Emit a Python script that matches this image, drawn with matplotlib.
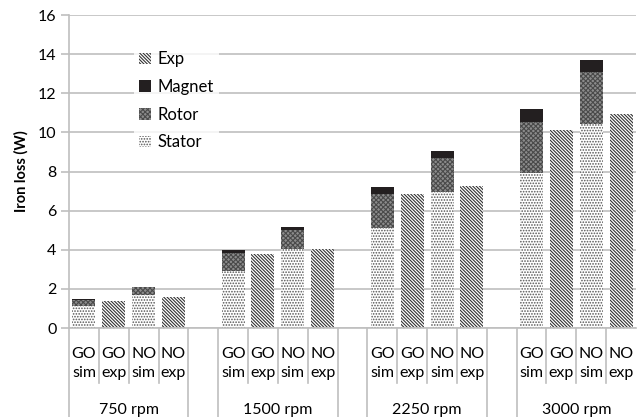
import numpy as np
import matplotlib.pyplot as plt
from matplotlib.patches import Patch
from matplotlib.lines import Line2D

# iron loss components (W) per speed: GO sim, GO exp, NO sim, NO exp
speeds = ["750 rpm", "1500 rpm", "2250 rpm", "3000 rpm"]
cases = ["GO\nsim", "GO\nexp", "NO\nsim", "NO\nexp"]

stator = [[1.10, 1.70], [2.90, 4.05], [5.13, 6.97], [7.90, 10.43]]
rotor = [[0.33, 0.40], [0.95, 0.97], [1.72, 1.74], [2.65, 2.67]]
magnet = [[0.07, 0.02], [0.15, 0.15], [0.34, 0.34], [0.63, 0.60]]
exp_loss = [[1.36, 1.58], [3.78, 4.04], [6.83, 7.27], [10.12, 10.94]]

plt.rcParams['font.family'] = ['Lato', 'DejaVu Sans']
plt.rcParams['hatch.linewidth'] = 0.8

fig = plt.figure(figsize=(6.4, 4.17), dpi=100)
ax = fig.add_axes([0.1078, 0.2134, 0.886, 0.7506])

grid_c = '#bfbfbf'
st_kw = dict(facecolor='white', edgecolor='#555555', hatch='......', linewidth=0)
ro_kw = dict(facecolor='#8c8c8c', edgecolor='#4a4a4a', hatch='xxxxxxx', linewidth=0)
ma_kw = dict(facecolor='#231f20', edgecolor='#231f20', linewidth=0)
ex_kw = dict(facecolor='white', edgecolor='#333333', hatch='\\' * 10, linewidth=0)

w = 0.77
slot = 0
centers = []
for g in range(len(speeds)):
    xs = [slot + k for k in range(4)]
    centers.append(xs)
    for j, x in zip([0, 1], [xs[0], xs[2]]):
        s, r, m = stator[g][j], rotor[g][j], magnet[g][j]
        ax.bar(x, s, w, zorder=2, **st_kw)
        ax.bar(x, r, w, bottom=s, zorder=2, **ro_kw)
        ax.bar(x, m, w, bottom=s + r, zorder=2, **ma_kw)
    for j, x in zip([0, 1], [xs[1], xs[3]]):
        ax.bar(x, exp_loss[g][j], w, zorder=2, **ex_kw)
    slot += 5

ax.set_xlim(-0.5, 18.5)
ax.set_ylim(0, 16)
ax.set_yticks(np.arange(0, 17, 2))
ax.yaxis.grid(True, color=grid_c, linewidth=1.2, zorder=0)
ax.set_axisbelow(True)
for side in ['top', 'right']:
    ax.spines[side].set_visible(False)
for side in ['left', 'bottom']:
    ax.spines[side].set_color(grid_c)
    ax.spines[side].set_linewidth(1.2)
ax.tick_params(axis='y', colors=grid_c, length=6, width=1.2, labelcolor='black', labelsize=11.5, pad=3)
ax.set_xticks([])
ax.set_ylabel('Iron loss (W)', fontsize=10.5, fontweight='bold', labelpad=7)

# two-level category axis drawn below the plot
trans = ax.get_xaxis_transform()
for g, xs in enumerate(centers):
    for x, lab in zip(xs, cases):
        ax.text(x, -0.062, lab, transform=trans, ha='center', va='top',
                fontsize=11.5, linespacing=1.4)
    for x in xs[:-1]:
        ax.add_line(Line2D([x + 0.5, x + 0.5], [0, -0.175], transform=trans,
                           color=grid_c, lw=1.2, clip_on=False))
    ax.text((xs[0] + xs[-1]) / 2, -0.24, speeds[g], transform=trans,
            ha='center', va='top', fontsize=11.5)
for b in [-0.5, 3.5, 4.5, 8.5, 9.5, 13.5, 14.5]:
    ax.add_line(Line2D([b, b], [0, -0.3], transform=trans, color=grid_c,
                       lw=1.2, clip_on=False))

handles = [Patch(**ex_kw, label='Exp'), Patch(**ma_kw, label='Magnet'),
           Patch(**ro_kw, label='Rotor'), Patch(**st_kw, label='Stator')]
leg = ax.legend(handles=handles, loc='upper left', bbox_to_anchor=(0.115, 0.9),
                frameon=True, fontsize=12, handlelength=0.7, handleheight=0.7,
                handletextpad=0.4, labelspacing=0.7, borderpad=0.3,
                borderaxespad=0)
leg.get_frame().set_edgecolor('white')
leg.get_frame().set_linewidth(0)
leg.get_frame().set_boxstyle('square', pad=0)

fig.savefig('out.png', dpi=100)
